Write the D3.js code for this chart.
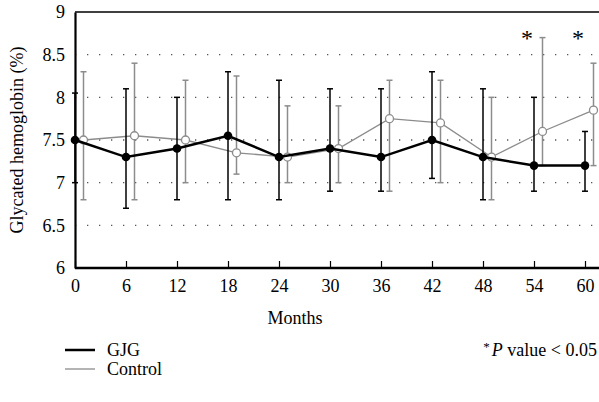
<!DOCTYPE html>
<html>
<head>
<meta charset="utf-8">
<script src="https://cdn.jsdelivr.net/npm/d3@7"></script>
<style>
  body { margin: 0; background: #fff; }
  svg { display: block; }
  svg text { font-family: 'Liberation Serif', 'DejaVu Serif', serif; }
</style>
</head>
<body>
<div id="chart"></div>
<script>
// months on the x axis
const months = [0, 6, 12, 18, 24, 30, 36, 42, 48, 54, 60];
const yTicks = [6, 6.5, 7, 7.5, 8, 8.5, 9];

// GJG group: mean, lower and upper error bar ends
const gjgMean = [7.5, 7.3, 7.4, 7.55, 7.3, 7.4, 7.3, 7.5, 7.3, 7.2, 7.2];
const gjgLow  = [7.0, 6.7, 6.8, 6.8, 6.8, 6.9, 6.9, 7.05, 6.8, 6.9, 6.9];
const gjgHigh = [8.05, 8.1, 8.0, 8.3, 8.2, 8.1, 8.1, 8.3, 8.1, 8.0, 7.6];

// Control group
const ctlMean = [7.5, 7.55, 7.5, 7.35, 7.3, 7.4, 7.75, 7.7, 7.3, 7.6, 7.85];
const ctlLow  = [6.8, 6.8, 7.0, 7.1, 7.0, 7.0, 6.9, 7.0, 6.8, 7.2, 7.2];
const ctlHigh = [8.3, 8.4, 8.2, 8.25, 7.9, 7.9, 8.2, 8.2, 8.0, 8.7, 8.4];

// months flagged with P < 0.05
const sigMonths = [54, 60];

const W = 599, H = 402;
const margin = { top: 12, left: 75 };
const plotBottom = 268;
const ctlShift = 1; // control drawn one month to the right
const fs = 18;

const svg = d3.select('#chart').append('svg')
  .attr('width', W)
  .attr('height', H);

const x = d3.scaleLinear().domain([0, 60]).range([margin.left, 585]);
const y = d3.scaleLinear().domain([6, 9]).range([plotBottom, margin.top]);

// dotted grid lines
svg.append('g')
  .selectAll('line')
  .data(yTicks.filter(d => d > 6 && d < 9))
  .enter().append('line')
  .attr('x1', margin.left)
  .attr('x2', W)
  .attr('y1', d => y(d))
  .attr('y2', d => y(d))
  .attr('stroke', '#555')
  .attr('stroke-width', 1.3)
  .attr('stroke-dasharray', '1.3,10.7');

// top frame line
svg.append('line')
  .attr('x1', margin.left).attr('x2', W)
  .attr('y1', y(9)).attr('y2', y(9))
  .attr('stroke', '#000').attr('stroke-width', 1.5);

// x axis
const xAxis = svg.append('g')
  .attr('transform', `translate(0,${plotBottom})`)
  .call(d3.axisBottom(x).tickValues(months).tickSize(-7).tickPadding(11).tickSizeOuter(0));
xAxis.attr('font-family', null).attr('font-size', fs);
xAxis.select('.domain').attr('stroke-width', 2.5).attr('d', `M${margin.left},0H${W}`);
xAxis.selectAll('.tick line').attr('stroke-width', 1.2);
xAxis.selectAll('text').attr('fill', '#000');

// y axis
const yAxis = svg.append('g')
  .attr('transform', `translate(${margin.left},0)`)
  .call(d3.axisLeft(y).tickValues(yTicks).tickSize(0).tickPadding(10).tickFormat(d3.format('')));
yAxis.attr('font-family', null).attr('font-size', fs);
yAxis.select('.domain').attr('stroke-width', 2.2);
yAxis.selectAll('text').attr('fill', '#000');

// axis titles
svg.append('text')
  .attr('x', 295).attr('y', 324)
  .attr('text-anchor', 'middle')
  .attr('font-size', fs)
  .text('Months');

svg.append('text')
  .attr('transform', `translate(23,${(margin.top + plotBottom) / 2}) rotate(-90)`)
  .attr('text-anchor', 'middle')
  .attr('font-size', fs)
  .text('Glycated hemoglobin (%)');

function drawSeries(mean, low, high, shift, color, lineW, errW) {
  const g = svg.append('g');
  const pts = months.map((m, i) => ({ m: m + shift, v: mean[i], lo: low[i], hi: high[i] }));

  // error bars
  const eb = g.selectAll('.eb').data(pts).enter().append('g');
  eb.append('line')
    .attr('x1', d => x(d.m)).attr('x2', d => x(d.m))
    .attr('y1', d => y(d.lo)).attr('y2', d => y(d.hi))
    .attr('stroke', color).attr('stroke-width', errW);
  ['lo', 'hi'].forEach(k => {
    eb.append('line')
      .attr('x1', d => x(d.m) - 3).attr('x2', d => x(d.m) + 3)
      .attr('y1', d => y(d[k])).attr('y2', d => y(d[k]))
      .attr('stroke', color).attr('stroke-width', errW);
  });

  g.append('path')
    .datum(pts)
    .attr('fill', 'none')
    .attr('stroke', color)
    .attr('stroke-width', lineW)
    .attr('d', d3.line().x(d => x(d.m)).y(d => y(d.v)));
  return { g, pts };
}

// control series (behind)
const ctl = drawSeries(ctlMean, ctlLow, ctlHigh, ctlShift, '#8c8c8c', 1.3, 1.5);
ctl.g.selectAll('.mk').data(ctl.pts).enter().append('circle')
  .attr('cx', d => x(d.m)).attr('cy', d => y(d.v)).attr('r', 4)
  .attr('fill', '#fff').attr('stroke', '#8c8c8c').attr('stroke-width', 1.3);

// GJG series
const gjg = drawSeries(gjgMean, gjgLow, gjgHigh, 0, '#000', 2.5, 1.5);
gjg.g.selectAll('.mk').data(gjg.pts).enter().append('circle')
  .attr('cx', d => x(d.m)).attr('cy', d => y(d.v)).attr('r', 4.3)
  .attr('fill', '#000');

// significance asterisks
svg.selectAll('.sig').data(sigMonths).enter().append('text')
  .attr('x', d => x(d) - 7)
  .attr('y', 46)
  .attr('text-anchor', 'middle')
  .attr('font-size', 24)
  .text('*');

// legend
const legend = svg.append('g');
legend.append('line').attr('x1', 65).attr('x2', 95).attr('y1', 350).attr('y2', 350)
  .attr('stroke', '#000').attr('stroke-width', 2.5);
legend.append('text').attr('x', 107).attr('y', 356).attr('font-size', fs).text('GJG');
legend.append('line').attr('x1', 65).attr('x2', 95).attr('y1', 369).attr('y2', 369)
  .attr('stroke', '#8c8c8c').attr('stroke-width', 1.3);
legend.append('text').attr('x', 107).attr('y', 375).attr('font-size', fs).text('Control');

const pnote = legend.append('text')
  .attr('x', 597).attr('y', 356)
  .attr('text-anchor', 'end')
  .attr('font-size', fs);
pnote.append('tspan').attr('font-size', 13).attr('dy', -5).text('*');
pnote.append('tspan').attr('dy', 5).attr('dx', 2).attr('font-style', 'italic').text('P');
pnote.append('tspan').text(' value < 0.05');
</script>
</body>
</html>
